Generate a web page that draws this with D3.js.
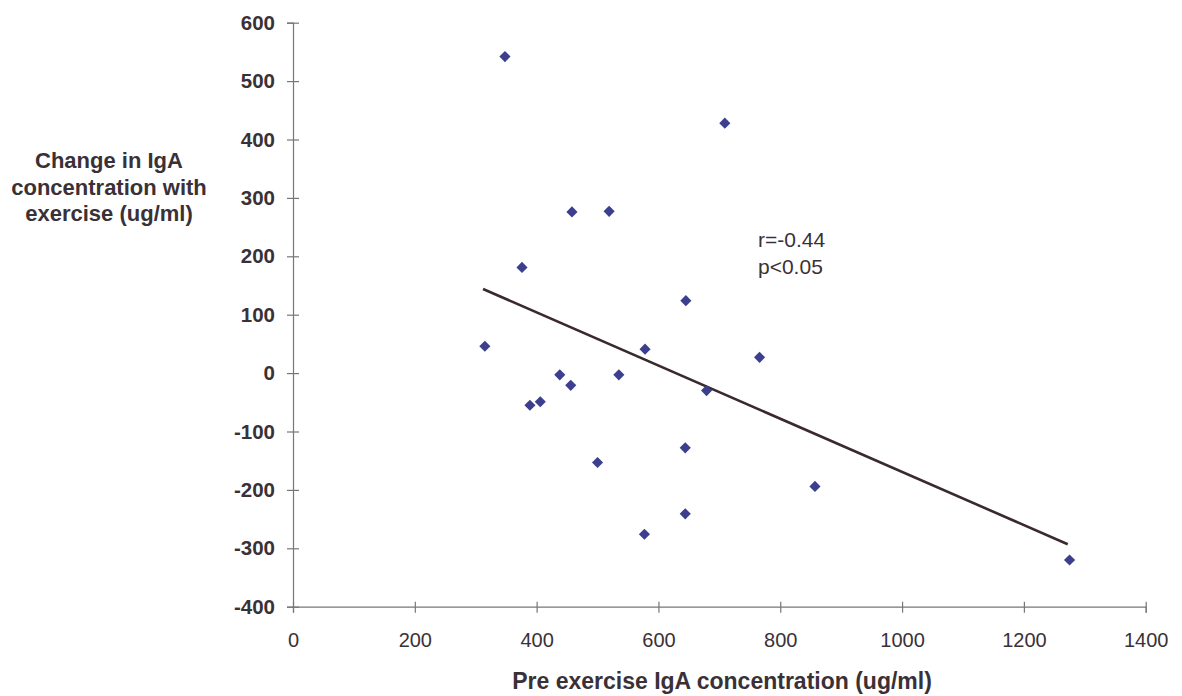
<!DOCTYPE html>
<html>
<head>
<meta charset="utf-8">
<script src="https://cdn.jsdelivr.net/npm/d3@7"></script>
<style>
  html, body { margin: 0; padding: 0; background: #ffffff; }
  svg { display: block; }
  text { font-family: "Liberation Sans", Arial, sans-serif; }
</style>
</head>
<body>
<svg id="chart" width="1182" height="696"></svg>
<script>
// ---- data ----
const preIgA    = [348, 709, 458, 519, 376, 645, 315, 578, 766, 438, 456, 535, 679, 389, 406, 644, 500, 857, 644, 577, 1275];
const changeIgA = [542, 428, 276, 277, 181, 124,  46,  41,  27,  -3, -21,  -3, -30, -55, -49, -128, -153, -194, -241, -276, -320];
const fitX = [312, 1272];
const fitY = [144, -293];
const xTicks = [0, 200, 400, 600, 800, 1000, 1200, 1400];
const yTicks = [-400, -300, -200, -100, 0, 100, 200, 300, 400, 500, 600];
const xTitle = "Pre exercise IgA concentration (ug/ml)";
const yTitleLines = ["Change in IgA", "concentration with", "exercise (ug/ml)"];
const annotLines = ["r=-0.44", "p<0.05"];

const svg = d3.select("#chart");
const x = d3.scaleLinear().domain([0, 1400]).range([293, 1145.7]);
const y = d3.scaleLinear().domain([-400, 600]).range([606.7, 22.7]);

const textCol = "#3a3137";
const axisCol = "#7b747c";

// y axis
const yAxis = d3.axisLeft(y).tickValues(yTicks).tickSize(6).tickPadding(12).tickFormat(d => String(d));
const gy = svg.append("g").attr("transform", `translate(${x(0)},0)`).call(yAxis);
gy.select(".domain").attr("stroke", axisCol).attr("stroke-width", 1.2);
gy.selectAll(".tick line").attr("stroke", axisCol).attr("x1", -6).attr("x2", 6).attr("stroke-width", 1.2);
gy.selectAll(".tick text").attr("fill", textCol).attr("font-size", 20.5).attr("font-weight", "bold")
  .attr("font-family", "Liberation Sans, Arial, sans-serif");

// x axis
const xAxis = d3.axisBottom(x).tickValues(xTicks).tickSize(6).tickPadding(20).tickFormat(d => String(d));
const gx = svg.append("g").attr("transform", `translate(0,${y(-400)})`).call(xAxis);
gx.select(".domain").attr("stroke", axisCol).attr("stroke-width", 1.2);
gx.selectAll(".tick line").attr("stroke", axisCol).attr("y1", -5).attr("y2", 6).attr("stroke-width", 1.2);
gx.selectAll(".tick text").attr("fill", textCol).attr("font-size", 20)
  .attr("font-family", "Liberation Sans, Arial, sans-serif");

// regression line
svg.append("line")
  .attr("x1", x(fitX[0])).attr("y1", y(fitY[0]))
  .attr("x2", x(fitX[1])).attr("y2", y(fitY[1]))
  .attr("stroke", "#3a2a30").attr("stroke-width", 2.6);

// points
const pts = preIgA.map((v, i) => ({ px: v, py: changeIgA[i] }));
const sym = d3.symbol(d3.symbolSquare, 62);
svg.append("g").selectAll("path").data(pts).join("path")
  .attr("d", sym)
  .attr("transform", d => `translate(${x(d.px)},${y(d.py)}) rotate(45)`)
  .attr("fill", "#3b3f8e");

// annotation
svg.append("g").selectAll("text").data(annotLines).join("text")
  .attr("x", 758).attr("y", (d, i) => 247 + i * 26.5)
  .attr("font-size", 21).attr("fill", textCol).text(d => d);

// x title
svg.append("text").attr("x", 722).attr("y", 689).attr("text-anchor", "middle")
  .attr("font-size", 23).attr("font-weight", "bold").attr("fill", textCol).text(xTitle);

// y title
svg.append("g").selectAll("text").data(yTitleLines).join("text")
  .attr("x", 109).attr("y", (d, i) => 168 + i * 26.5).attr("text-anchor", "middle")
  .attr("font-size", 22).attr("font-weight", "bold").attr("fill", textCol).text(d => d);
</script>
</body>
</html>
